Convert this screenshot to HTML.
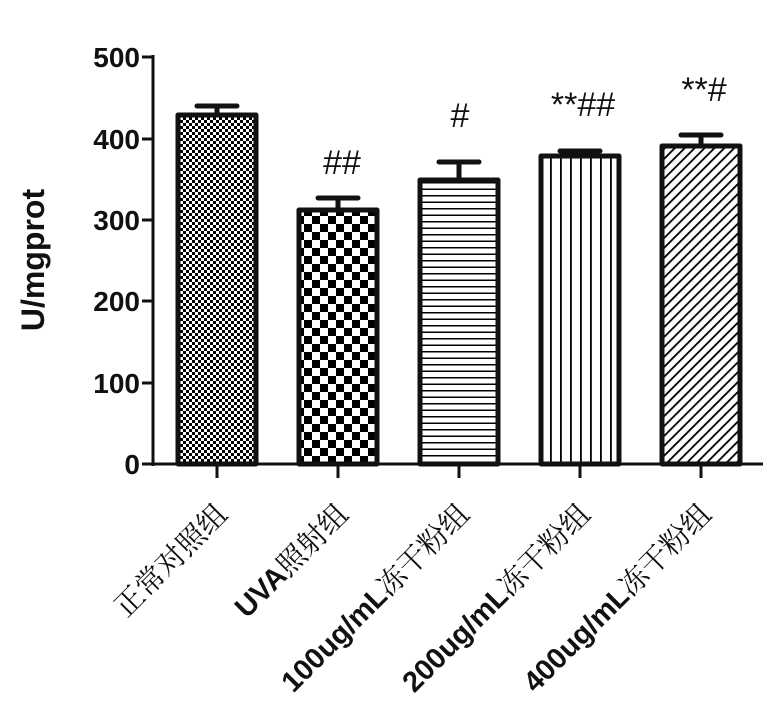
<!DOCTYPE html>
<html><head><meta charset="utf-8"><style>
html,body{margin:0;padding:0;background:#fff;width:767px;height:722px;overflow:hidden}
</style></head><body>
<svg width="767" height="722" xmlns="http://www.w3.org/2000/svg">
<defs>
<pattern id="p1" width="6" height="6" patternUnits="userSpaceOnUse"><rect width="6" height="6" fill="#fff"/><rect width="3" height="3" fill="#000"/><rect x="3" y="3" width="3" height="3" fill="#000"/></pattern>
<pattern id="p2" width="16" height="16" patternUnits="userSpaceOnUse"><rect width="16" height="16" fill="#fff"/><rect width="8" height="8" fill="#000"/><rect x="8" y="8" width="8" height="8" fill="#000"/></pattern>
<pattern id="p3" width="6" height="6.5" patternUnits="userSpaceOnUse"><rect width="6" height="6.5" fill="#fff"/><rect y="0" width="6" height="1.5" fill="#000"/></pattern>
<pattern id="p4" width="10" height="6" patternUnits="userSpaceOnUse"><rect width="10" height="6" fill="#fff"/><rect x="0" width="1.8" height="6" fill="#000"/></pattern>
<pattern id="p5" width="7" height="7" patternUnits="userSpaceOnUse" patternTransform="rotate(45)"><rect width="7" height="7" fill="#fff"/><rect width="1.8" height="7" fill="#000"/></pattern>
</defs>
<g stroke="#111" stroke-width="3" fill="none">
<line x1="153" y1="55" x2="153" y2="466"/>
<line x1="153" y1="464" x2="763" y2="464"/>
<line x1="142" y1="57" x2="153" y2="57"/>
<line x1="142" y1="139" x2="153" y2="139"/>
<line x1="142" y1="220" x2="153" y2="220"/>
<line x1="142" y1="301" x2="153" y2="301"/>
<line x1="142" y1="383" x2="153" y2="383"/>
<line x1="142" y1="464" x2="153" y2="464"/>
<line x1="217" y1="464" x2="217" y2="478"/>
<line x1="338" y1="464" x2="338" y2="478"/>
<line x1="459" y1="464" x2="459" y2="478"/>
<line x1="580" y1="464" x2="580" y2="478"/>
<line x1="701" y1="464" x2="701" y2="478"/>
</g>
<g stroke="#111" stroke-width="5" stroke-linejoin="round">
<line x1="217" y1="106" x2="217" y2="114"/><line x1="197" y1="106" x2="237" y2="106" stroke-linecap="round"/>
<line x1="338" y1="198" x2="338" y2="210"/><line x1="318" y1="198" x2="358" y2="198" stroke-linecap="round"/>
<line x1="459" y1="162" x2="459" y2="180"/><line x1="439" y1="162" x2="479" y2="162" stroke-linecap="round"/>
<line x1="580" y1="151" x2="580" y2="156"/><line x1="560" y1="151" x2="600" y2="151" stroke-linecap="round"/>
<line x1="701" y1="135" x2="701" y2="146"/><line x1="681" y1="135" x2="721" y2="135" stroke-linecap="round"/>
<rect x="178" y="115" width="78" height="349" fill="url(#p1)"/>
<rect x="299" y="210" width="78" height="254" fill="url(#p2)"/>
<rect x="420" y="180" width="78" height="284" fill="url(#p3)"/>
<rect x="541" y="156" width="78" height="308" fill="url(#p4)"/>
<rect x="662" y="146" width="78" height="318" fill="url(#p5)"/>
</g>
<g font-family="Liberation Sans, sans-serif" font-weight="bold" font-size="28" fill="#111" text-anchor="end">
<text x="140" y="67">500</text><text x="140" y="149">400</text><text x="140" y="230">300</text>
<text x="140" y="311">200</text><text x="140" y="393">100</text><text x="140" y="474">0</text>
</g>
<text transform="translate(44,260) rotate(-90)" text-anchor="middle" font-family="Liberation Sans, sans-serif" font-weight="bold" font-size="32" fill="#111">U/mgprot</text>
<g font-family="Liberation Sans, sans-serif" font-size="34" fill="#111" text-anchor="middle">
<text x="342" y="174">##</text>
<text x="460" y="127">#</text>
<text x="583" y="116">**##</text>
<text x="704" y="101">**#</text>
</g>
<g font-family="Liberation Sans, 'Noto Serif CJK SC', sans-serif" font-weight="bold" font-size="29" fill="#111" text-anchor="end">
<text transform="translate(229,516) rotate(-45)" font-family="'Noto Serif CJK SC', serif" font-weight="normal">正常对照组</text>
<text transform="translate(350,516) rotate(-45)">UVA<tspan font-family="'Noto Serif CJK SC', serif" font-weight="normal">照射组</tspan></text>
<text transform="translate(471,516) rotate(-45)">100ug/mL<tspan font-family="'Noto Serif CJK SC', serif" font-weight="normal">冻干粉组</tspan></text>
<text transform="translate(592,516) rotate(-45)">200ug/mL<tspan font-family="'Noto Serif CJK SC', serif" font-weight="normal">冻干粉组</tspan></text>
<text transform="translate(713,516) rotate(-45)">400ug/mL<tspan font-family="'Noto Serif CJK SC', serif" font-weight="normal">冻干粉组</tspan></text>
</g>
</svg>
</body></html>
